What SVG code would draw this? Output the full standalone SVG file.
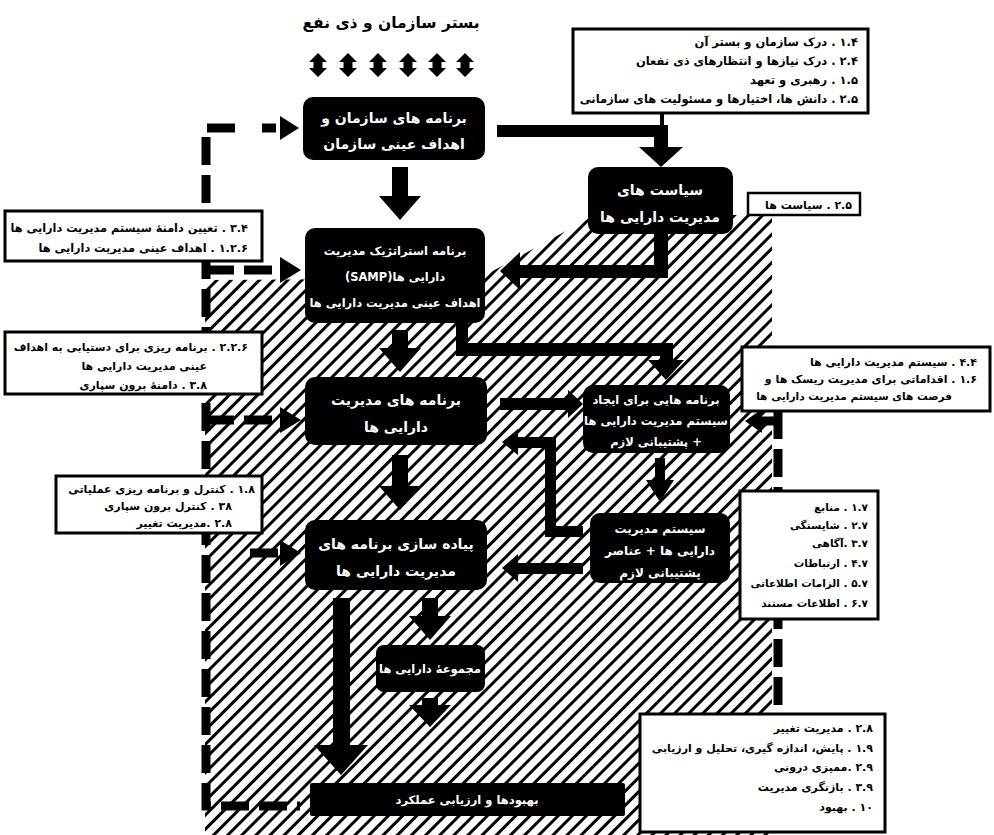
<svg xmlns="http://www.w3.org/2000/svg" width="994" height="835" viewBox="0 0 994 835">
<defs>
<pattern id="hatch" width="10" height="10" patternUnits="userSpaceOnUse" patternTransform="rotate(45)">
<rect x="0" y="0" width="3" height="10" fill="#000"/>
</pattern>
<path id="dbl" d="M0 -12 L9 -3 H4.5 V3 H9 L0 12 L-9 3 H-4.5 V-3 H-9 Z"/>
</defs>
<style>
text{font-family:"DejaVu Sans",sans-serif;font-weight:bold;direction:rtl}
.w{fill:#fff;font-size:14px;text-anchor:middle}
.ws{fill:#fff;font-size:11.5px;text-anchor:middle}
.b{fill:#000;font-size:11px;text-anchor:start}
.node{fill:#000}
.box{fill:#fff;stroke:#000;stroke-width:3}
.dash{fill:none;stroke:#000;stroke-width:9;stroke-dasharray:28 10}
.arr{fill:#000}
</style>
<rect width="994" height="835" fill="#fff"/>
<polygon points="205,280 480,278 595,215 772,215 772,835 205,835" fill="url(#hatch)"/>

<g id="context">
<text x="391" y="28" style="font-size:15.5px;text-anchor:middle;fill:#000">بستر سازمان و ذی نفع</text>
<use href="#dbl" x="318" y="65"/>
<use href="#dbl" x="348" y="65"/>
<use href="#dbl" x="378" y="65"/>
<use href="#dbl" x="408" y="65"/>
<use href="#dbl" x="437" y="65"/>
<use href="#dbl" x="465" y="65"/>
</g>

<g id="connectors">
<path class="dash" d="M235 128 H206 V806 H300"/>
<path class="dash" d="M778 411 V714"/>
<path class="dash" d="M206 128 H280" style="stroke-dasharray:0 56 14 20"/>
<path class="dash" d="M206 270 H280"/>
<path class="dash" d="M206 420 H280"/>
<path class="dash" d="M250 553 H280"/>
<path class="dash" d="M778 421 H760" style="stroke-dasharray:none"/>
<path class="arr" d="M280 116 L299 128 L280 140 Z"/>
<path class="arr" d="M280 257 L301 270 L280 283 Z"/>
<path class="arr" d="M280 407 L301 420 L280 433 Z"/>
<path class="arr" d="M280 540 L301 553 L280 566 Z"/>
<path class="arr" d="M762 409 L745 421 L762 433 Z"/>
<path class="arr" d="M392 167 H408 V196 H421 L400 220 L379 196 H392 Z"/>
<path class="arr" d="M392 330 H408 V348 H421 L400 372 L379 348 H392 Z"/>
<path class="arr" d="M392 455 H408 V486 H421 L400 510 L379 486 H392 Z"/>
<path class="arr" d="M422 598 H438 V616 H451 L430 640 L409 616 H422 Z"/>
<path class="arr" d="M422 698 H438 V705 H451 L430 727 L409 705 H422 Z"/>
<path class="arr" d="M333 598 H350 V745 H368 L341 775 L314 745 H333 Z"/>
<path class="arr" d="M497 125 H668 V147 H683 L661 167 L639 147 H654 V137 H497 Z"/>
<rect x="660" y="112" width="4" height="14" fill="#000"/>
<path class="arr" d="M668 234 V278 H520 V290 L500 271 L520 252 V265 H654 V234 Z"/>
<path class="arr" d="M456 322 V356 H660 V360 H648 L666 380 L684 360 H673 V343 H468 V322 Z"/>
<path class="arr" d="M500 398 H568 V390 L583 404 L568 418 V410 H500 Z"/>
<path class="arr" d="M583 526 V537 H545 V448 H518 V455 L502 442 L518 429 V437 H556 V526 Z"/>
<path class="arr" d="M583 563 V574 H518 V582 L502 568 L518 554 V563 Z"/>
<path class="arr" d="M655 458 H665 V480 H674 L660 502 L646 480 H655 Z"/>
</g>

<g id="n-org">
<rect class="node" x="303" y="97" width="182" height="63" rx="10"/>
<text class="w" x="394" y="123">برنامه های سازمان و</text>
<text class="w" x="394" y="149">اهداف عینی سازمان</text>
</g>
<g id="n-samp">
<rect class="node" x="305" y="228" width="180" height="95" rx="10"/>
<text class="ws" x="395" y="255">برنامه استراتژیک مدیریت</text>
<text class="ws" x="395" y="281">دارایی ها(SAMP)</text>
<text class="ws" x="395" y="307">اهداف عینی مدیریت دارایی ها</text>
</g>
<g id="n-policy">
<rect class="node" x="588" y="167" width="145" height="67" rx="10"/>
<text class="w" x="660" y="195">سیاست های</text>
<text class="w" x="660" y="222">مدیریت دارایی ها</text>
</g>
<g id="n-programs">
<rect class="node" x="305" y="377" width="182" height="68" rx="10"/>
<text class="w" x="396" y="405">برنامه های مدیریت</text>
<text class="w" x="396" y="432">دارایی ها</text>
</g>
<g id="n-create">
<rect class="node" x="583" y="385" width="147" height="68" rx="10"/>
<text class="ws" x="656" y="404">برنامه هایی برای ایجاد</text>
<text class="ws" x="656" y="425">سیستم مدیریت دارایی ها</text>
<text class="ws" x="656" y="446">+ پشتیبانی لازم</text>
</g>
<g id="n-system">
<rect class="node" x="590" y="513" width="140" height="70" rx="10"/>
<text class="ws" x="660" y="533" style="font-size:12px">سیستم مدیریت</text>
<text class="ws" x="660" y="555" style="font-size:12px">دارایی ها + عناصر</text>
<text class="ws" x="660" y="577" style="font-size:12px">پشتیبانی لازم</text>
</g>
<g id="n-impl">
<rect class="node" x="305" y="520" width="182" height="70" rx="10"/>
<text class="w" x="396" y="549">پیاده سازی برنامه های</text>
<text class="w" x="396" y="576">مدیریت دارایی ها</text>
</g>
<g id="n-portfolio">
<rect class="node" x="376" y="645" width="109" height="47" rx="8"/>
<text class="ws" x="430" y="673">مجموعهٔ دارایی ها</text>
</g>
<g id="n-improve">
<rect class="node" x="310" y="783" width="315" height="33" rx="2"/>
<text class="ws" x="467" y="804">بهبودها و ارزیابی عملکرد</text>
</g>

<g id="b-top">
<rect class="box" x="573" y="29" width="295" height="84"/>
<text class="b" x="858" y="46" style="font-size:11.5px">۱.۴ . درک سازمان و بستر آن</text>
<text class="b" x="858" y="65" style="font-size:11.5px">۲.۴ . درک نیازها و انتظارهای ذی نفعان</text>
<text class="b" x="858" y="84" style="font-size:11.5px">۱.۵ . رهبری و تعهد</text>
<text class="b" x="858" y="103" style="font-size:11.5px">۲.۵ . دانش ها، اختیارها و مسئولیت های سازمانی</text>
</g>
<g id="b-policy">
<rect class="box" x="748" y="193" width="112" height="22" style="stroke-width:2.5"/>
<text class="b" x="852" y="209">۲.۵ . سیاست ها</text>
</g>
<g id="b-left1">
<rect class="box" x="5" y="211" width="257" height="50"/>
<text class="b" x="248" y="232" style="font-size:11.3px">۳.۴ . تعیین دامنهٔ سیستم مدیریت دارایی ها</text>
<text class="b" x="248" y="252" style="font-size:11.3px">۱.۲.۶ . اهداف عینی مدیریت دارایی ها</text>
</g>
<g id="b-left2">
<rect class="box" x="5" y="332" width="257" height="62"/>
<text class="b" x="248" y="351">۲.۲.۶ . برنامه ریزی برای دستیابی به اهداف</text>
<text class="b" x="207" y="370">عینی مدیریت دارایی ها</text>
<text class="b" x="207" y="389">۳.۸ . دامنهٔ برون سپاری</text>
</g>
<g id="b-left3">
<rect class="box" x="56" y="476" width="206" height="57"/>
<text class="b" x="255" y="493">۱.۸ . کنترل و برنامه ریزی عملیاتی</text>
<text class="b" x="232" y="510">۳۸ . کنترل برون سپاری</text>
<text class="b" x="232" y="527">۲.۸ .مدیریت تغییر</text>
</g>
<g id="b-right1">
<rect class="box" x="742" y="347" width="248" height="64"/>
<text class="b" x="977" y="366">۴.۴ . سیستم مدیریت دارایی ها</text>
<text class="b" x="977" y="383">۱.۶ . اقداماتی برای مدیریت ریسک ها و</text>
<text class="b" x="952" y="400" style="font-size:10.6px">فرصت های سیستم مدیریت دارایی ها</text>
</g>
<g id="b-right2">
<rect class="box" x="740" y="491" width="138" height="128"/>
<text class="b" x="868" y="511" style="font-size:10.5px">۱.۷ . منابع</text>
<text class="b" x="868" y="529" style="font-size:10.5px">۲.۷ . شایستگی</text>
<text class="b" x="868" y="547" style="font-size:10.5px">۳.۷ .آگاهی</text>
<text class="b" x="868" y="567" style="font-size:10.5px">۴.۷ . ارتباطات</text>
<text class="b" x="868" y="587" style="font-size:10.5px">۵.۷ . الزامات اطلاعاتی</text>
<text class="b" x="868" y="607" style="font-size:10.5px">۶.۷ . اطلاعات مستند</text>
</g>
<g id="b-bottom">
<rect class="box" x="640" y="714" width="245" height="118"/>
<text class="b" x="873" y="732">۲.۸ . مدیریت تغییر</text>
<text class="b" x="873" y="752">۱.۹ . پایش، اندازه گیری، تحلیل و ارزیابی</text>
<text class="b" x="873" y="771">۲.۹ .ممیزی درونی</text>
<text class="b" x="873" y="791">۳.۹ . بازنگری مدیریت</text>
<text class="b" x="873" y="811">۱۰ . بهبود</text>
</g>
</svg>
